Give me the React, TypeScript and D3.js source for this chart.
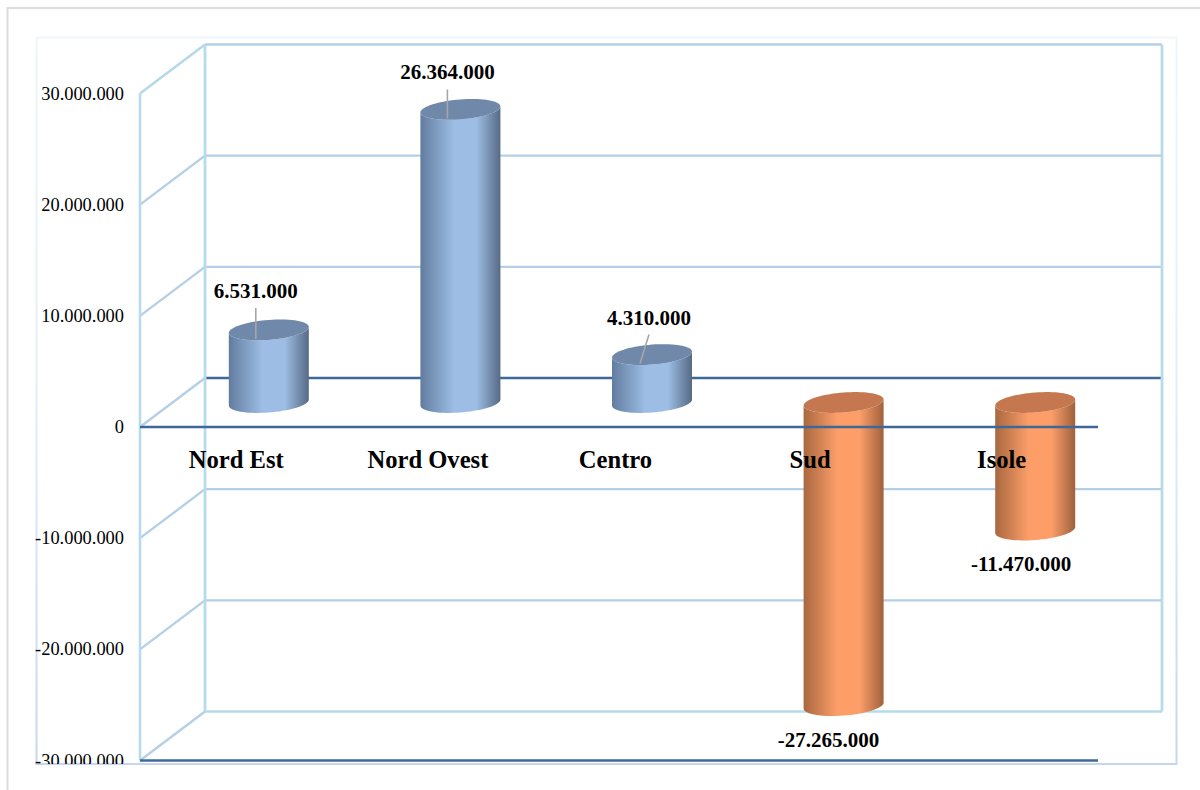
import React from "react";
import * as d3 from "d3";

const categories = ["Nord Est", "Nord Ovest", "Centro", "Sud", "Isole"];
const values = [6531000, 26364000, 4310000, -27265000, -11470000];
const yTicks = [30000000, 20000000, 10000000, 0, -10000000, -20000000, -30000000];

const FRONT_LEFT = 140;
const FRONT_RIGHT = 1098;
const DX = 65;
const DY = 49;
const RX = 40;
const RY = 10;
const SKEW = 3;
const SERIF = "'Liberation Serif', serif";

const y = d3.scaleLinear().domain([-30000000, 30000000]).range([760.5, 93.5]);
const x = d3.scaleBand<string>().domain(categories).range([FRONT_LEFT + DX / 2 + 0.5, FRONT_RIGHT + DX / 2 + 0.5]);
const locale = d3.formatLocale({ decimal: ",", thousands: ".", grouping: [3], currency: ["", ""], minus: "-" });
const fmt = locale.format(",d");

const baseline = y(0) - DY / 2;
const top = (v: number) => y(v) - DY / 2;
const angles = d3.range(0, 2 * Math.PI + 0.01, Math.PI / 36);
const ringPoint = (cx: number, cy: number, t: number): [number, number] => [
  cx + RX * Math.cos(t),
  cy + RY * Math.sin(t) - SKEW * Math.cos(t),
];
const line = d3.line();
const ellipsePath = (cx: number, cy: number) => line(angles.map((t) => ringPoint(cx, cy, t))) + "Z";
const bodyPath = (cx: number, y1: number, y2: number) => {
  const upper = Math.min(y1, y2);
  const lower = Math.max(y1, y2);
  const half = d3.range(0, Math.PI + 0.01, Math.PI / 36);
  const front = half.map((t) => ringPoint(cx, lower, t));
  const back = half.map((t) => ringPoint(cx, upper, t)).reverse();
  return line([...front, ...back]) + "Z";
};

const labelDx = [-13, -13, -3, -15, -14];
const categoryShift = [0, 0, -4, -1, -1];
const labelBaseline = (v: number, i: number) =>
  v > 0 ? top(v) + (i === 0 ? -32 : -30) : top(v) + 41;
const leaderTop = [-22, -20, -20];
const leaderSlant = [0, 0, 9];

const gradStops = (edgeL: string, mid: string, edgeR: string) => (
  <>
    <stop offset="0" stopColor={edgeL} />
    <stop offset="0.42" stopColor={mid} />
    <stop offset="0.7" stopColor={mid} />
    <stop offset="1" stopColor={edgeR} />
  </>
);

export default function App() {
  return (
    <svg
      width={1200}
      height={790}
      viewBox="0 0 1200 790"
      style={{ position: "fixed", left: 0, top: 0, background: "#fff" }}
    >
      <defs>
        <linearGradient id="blueBar" x1="0" x2="1" y1="0" y2="0">
          {gradStops("#627c9f", "#9dbde4", "#566a84")}
        </linearGradient>
        <linearGradient id="orangeBar" x1="0" x2="1" y1="0" y2="0">
          {gradStops("#a8683f", "#fd9e69", "#9f613c")}
        </linearGradient>
        <linearGradient id="panelFade" gradientUnits="userSpaceOnUse" x1="0" x2="0" y1="37" y2="764">
          <stop offset="0" stopColor="#eff6fb" />
          <stop offset="0.45" stopColor="#e6eff8" />
          <stop offset="1" stopColor="#c4d7ef" />
        </linearGradient>
        <clipPath id="panelClip">
          <rect x={30} y={30} width={1150} height={734} />
        </clipPath>
      </defs>

      {/* outer frame */}
      <path d="M7.5,790V8H1200" fill="none" stroke="#dcdcdc" strokeWidth={2} />
      {/* plot panel */}
      <path d="M36.5,764V37.5H1176.5V764Z" fill="none" stroke="url(#panelFade)" strokeWidth={2} />

      {/* back wall grid */}
      {yTicks.map((t) => (
        <g key={t}>
          <line
            x1={FRONT_LEFT}
            x2={FRONT_LEFT + DX}
            y1={y(t)}
            y2={y(t) - DY}
            stroke={t === 30000000 ? "#b3d9e8" : "#b5cfe6"}
            strokeWidth={2.4}
          />
          <line
            x1={FRONT_LEFT + DX}
            x2={FRONT_RIGHT + DX - 1}
            y1={y(t) - DY}
            y2={y(t) - DY}
            stroke={t === 0 ? "#3f6898" : t === -30000000 ? "#b3dce9" : "#b5cfe6"}
            strokeWidth={2.4}
          />
        </g>
      ))}
      <line x1={FRONT_LEFT} x2={FRONT_LEFT} y1={y(30000000)} y2={y(-30000000)} stroke="#b5dcea" strokeWidth={2.6} />
      <line x1={FRONT_LEFT + DX} x2={FRONT_LEFT + DX} y1={y(30000000) - DY} y2={y(-30000000) - DY} stroke="#b5dcea" strokeWidth={2.8} />
      <line x1={FRONT_RIGHT + DX - 1} x2={FRONT_RIGHT + DX - 1} y1={y(30000000) - DY} y2={y(-30000000) - DY} stroke="#b5dcea" strokeWidth={2.8} />

      {/* bars */}
      {categories.map((c, i) => {
        const v = values[i];
        const cx = x(c)! + x.bandwidth() / 2;
        const isPos = v > 0;
        return (
          <g key={c}>
            <path d={bodyPath(cx, baseline, top(v))} fill={isPos ? "url(#blueBar)" : "url(#orangeBar)"} />
            <path d={ellipsePath(cx, isPos ? top(v) : baseline)} fill={isPos ? "#7088a9" : "#c5774f"} />
          </g>
        );
      })}

      {/* front axes */}
      <line x1={FRONT_LEFT} x2={FRONT_RIGHT} y1={y(0)} y2={y(0)} stroke="#3f6898" strokeWidth={2.4} />
      <line x1={FRONT_LEFT} x2={FRONT_RIGHT} y1={y(-30000000)} y2={y(-30000000)} stroke="#3f6898" strokeWidth={2.6} />

      {/* leader lines */}
      {categories.map((c, i) => {
        const v = values[i];
        if (v <= 0) return null;
        const cx = x(c)! + x.bandwidth() / 2 + labelDx[i];
        return (
          <line
            key={c}
            x1={cx}
            x2={cx - leaderSlant[i]}
            y1={top(v) + leaderTop[i]}
            y2={top(v) + 9}
            stroke="#a6a6a6"
            strokeWidth={1.6}
          />
        );
      })}

      {/* tick labels */}
      <g clipPath="url(#panelClip)" fontFamily={SERIF} fontSize={18.4} fill="#000" textAnchor="end">
        {yTicks.map((t) => (
          <text key={t} x={124} y={y(t) + 6}>
            {fmt(t)}
          </text>
        ))}
      </g>

      {/* category labels */}
      <g fontFamily={SERIF} fontWeight="bold" fontSize={24.6} fill="#000" textAnchor="middle">
        {categories.map((c, i) => (
          <text key={c} x={x(c)! + x.bandwidth() / 2 - DX / 2 + categoryShift[i]} y={y(0) + 41}>
            {c}
          </text>
        ))}
      </g>

      {/* value labels */}
      <g fontFamily={SERIF} fontWeight="bold" fontSize={21} fill="#000" textAnchor="middle">
        {categories.map((c, i) => (
          <text key={c} x={x(c)! + x.bandwidth() / 2 + labelDx[i]} y={labelBaseline(values[i], i)}>
            {fmt(values[i])}
          </text>
        ))}
      </g>
    </svg>
  );
}
